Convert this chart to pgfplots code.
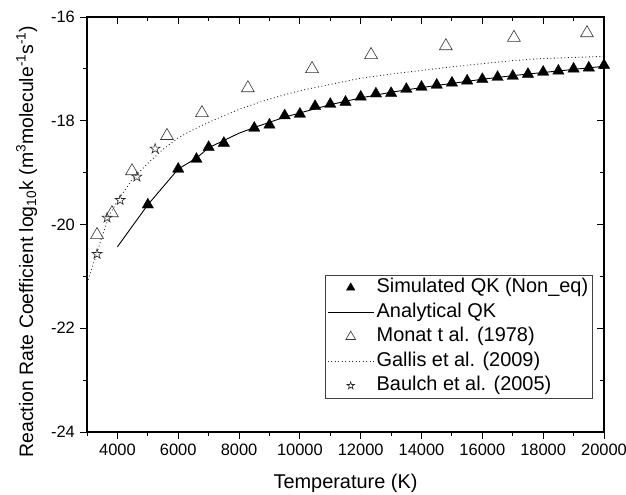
\documentclass[border=0pt]{standalone}
\usepackage{fontspec}
\setmainfont{Liberation Sans}
\usepackage{pgfplots}
\pgfplotsset{compat=1.18}

% outlined five-pointed star
\pgfdeclareplotmark{ostar}{%
  \pgfpathmoveto{\pgfpoint{0pt}{\pgfplotmarksize}}%
  \pgfpathlineto{\pgfpoint{0.2245\pgfplotmarksize}{0.309\pgfplotmarksize}}%
  \pgfpathlineto{\pgfpoint{0.951\pgfplotmarksize}{0.309\pgfplotmarksize}}%
  \pgfpathlineto{\pgfpoint{0.3633\pgfplotmarksize}{-0.118\pgfplotmarksize}}%
  \pgfpathlineto{\pgfpoint{0.588\pgfplotmarksize}{-0.809\pgfplotmarksize}}%
  \pgfpathlineto{\pgfpoint{0pt}{-0.382\pgfplotmarksize}}%
  \pgfpathlineto{\pgfpoint{-0.588\pgfplotmarksize}{-0.809\pgfplotmarksize}}%
  \pgfpathlineto{\pgfpoint{-0.3633\pgfplotmarksize}{-0.118\pgfplotmarksize}}%
  \pgfpathlineto{\pgfpoint{-0.951\pgfplotmarksize}{0.309\pgfplotmarksize}}%
  \pgfpathlineto{\pgfpoint{-0.2245\pgfplotmarksize}{0.309\pgfplotmarksize}}%
  \pgfpathclose
  \pgfusepathqstroke
}

\pgfplotsset{
  frame/.style={
    scale only axis, width=517bp, height=415bp,
    xmin=3000, xmax=20000, ymin=-24, ymax=-16,
    xtick={4000,6000,...,20000},
    minor xtick={3000,5000,...,19000},
    ytick={-24,-22,-20,-18,-16},
    minor ytick={-23,-21,-19,-17},
    major tick length=7bp, minor tick length=4bp,
    axis line style={line width=1.1bp, black},
    every tick/.style={black, line width=0.9bp},
    scaled x ticks=false, scaled y ticks=false,
  },
}

\begin{document}
\begin{tikzpicture}
\begin{axis}[
  frame, name=ax,
  xtick pos=left, ytick pos=left, tick align=outside,
  xticklabels={4000,6000,8000,10000,12000,14000,16000,18000,20000},
  yticklabels={-24,-22,-20,-18,-16},
  tick label style={font=\fontsize{16.5}{19}\selectfont},
  xticklabel style={inner sep=0pt, anchor=north, yshift=-5bp},
  yticklabel style={inner sep=0pt, anchor=east, xshift=-5bp},
  xlabel={Temperature (K)},
  xlabel style={at={(axis description cs:0.5,-0.135)}, anchor=base,
    font=\fontsize{20}{24}\selectfont},
  ylabel={Reaction Rate Coefficient log\textsubscript{10}k (m\textsuperscript{3}molecule\textsuperscript{-1}s\textsuperscript{-1})},
  ylabel style={at={(axis description cs:-0.1044,0.459)}, anchor=base,
    font=\fontsize{19.5}{23}\selectfont},
  legend image code/.code={%
    \draw[mark repeat=2,mark phase=2,#1,every mark/.append style={scale=0.75}]
      plot coordinates {(0bp,0bp) (23bp,0bp) (46bp,0bp)};},
  legend style={
    at={(0.9787,0.378)}, anchor=north east,
    draw=black!75, line width=0.6bp, fill=white,
    font=\fontsize{20}{24}\selectfont,
    inner xsep=2bp, inner ysep=0bp, row sep=0bp,
    nodes={inner xsep=2.5bp, inner ysep=3bp, text height=14.5bp, text depth=4bp},
  },
  legend cell align=left,
]

% Simulated QK (non-equilibrium)
\addplot[only marks, mark=triangle*, mark size=6.6bp,
  mark options={fill=black, draw=black, line width=0.3bp}] coordinates {
  (5000,-19.62) (6000,-18.93) (6600,-18.74) (7000,-18.51) (7500,-18.43)
  (8500,-18.14) (9000,-18.08) (9500,-17.90) (10000,-17.87) (10500,-17.72)
  (11000,-17.68) (11500,-17.64) (12000,-17.54) (12500,-17.48) (13000,-17.47)
  (13500,-17.39) (14000,-17.35) (14500,-17.31) (15000,-17.27) (15500,-17.23)
  (16000,-17.20) (16500,-17.16) (17000,-17.14) (17500,-17.10) (18000,-17.06)
  (18500,-17.04) (19000,-17.00) (19500,-16.98) (20000,-16.93)
};
\addlegendentry{Simulated QK (Non\_eq)}

% Analytical QK
\addplot[black, line width=0.9bp, no marks] coordinates {
  (4000,-20.43) (5000,-19.62) (6000,-18.93) (6600,-18.72) (7000,-18.52)
  (7500,-18.38) (8000,-18.24) (8500,-18.13) (9000,-18.03) (9500,-17.93)
  (10000,-17.85) (11000,-17.69) (12000,-17.56) (13000,-17.45) (14000,-17.36)
  (15000,-17.28) (16000,-17.20) (17000,-17.13) (18000,-17.07) (19000,-17.01)
  (20000,-16.95)
};
\addlegendentry{Analytical QK}

% Monat et al. (1978)
\addplot[only marks, mark=triangle, mark size=7.4bp,
  mark options={draw=black!80, line width=0.6bp}] coordinates {
  (3330,-20.20) (3820,-19.78) (4480,-18.97) (5630,-18.29) (6780,-17.85)
  (8290,-17.37) (10400,-17.00) (12340,-16.73) (14800,-16.56) (17040,-16.40)
  (19440,-16.31)
};
\addlegendentry{Monat t al. (1978)}

% Gallis et al. (2009)
\addplot[black!85, line width=0.9bp, dash pattern=on 0.9bp off 2.6bp, no marks] coordinates {
  (3000,-21.13) (3300,-20.60) (3500,-20.22) (3750,-19.80) (4000,-19.55)
  (4500,-19.12) (5000,-18.82) (5500,-18.55) (6000,-18.33) (6500,-18.17)
  (7000,-18.03) (8000,-17.78) (9000,-17.58) (10000,-17.42) (11000,-17.30)
  (12000,-17.18) (13000,-17.10) (14000,-17.03) (15000,-16.96) (16000,-16.90)
  (17000,-16.84) (18000,-16.80) (19000,-16.78) (20000,-16.76)
};
\addlegendentry{Gallis et al. (2009)}

% Baulch et al. (2005)
\addplot[only marks, mark=ostar, mark size=5.2bp,
  mark options={draw=black!85, line width=0.6bp}] coordinates {
  (3330,-20.57) (3660,-19.87) (4090,-19.53) (4640,-19.08) (5240,-18.54)
};
\addlegendentry{Baulch et al. (2005)}
\end{axis}

% mirrored ticks on the top and right sides, pointing inwards
\begin{axis}[
  frame,
  xtick pos=right, ytick pos=right, tick align=inside,
  xticklabels={}, yticklabels={},
]
\end{axis}

\pgfresetboundingbox
\useasboundingbox ([shift={(-87bp,-63bp)}]ax.south west)
  rectangle ([shift={(22bp,17bp)}]ax.north east);
\end{tikzpicture}
\end{document}
